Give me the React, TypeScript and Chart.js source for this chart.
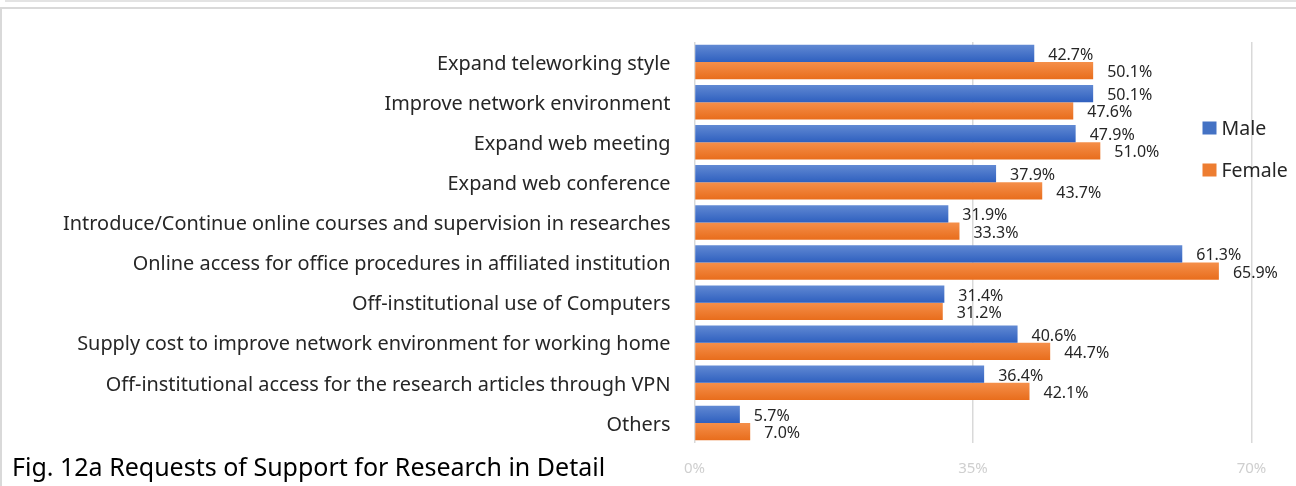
import React, { useEffect, useRef } from "react";
import { Chart, registerables } from "chart.js";

Chart.register(...registerables);

const categories = [
  "Expand teleworking style",
  "Improve network environment",
  "Expand web meeting",
  "Expand web conference",
  "Introduce/Continue online courses and supervision in researches",
  "Online access for office procedures in affiliated institution",
  "Off-institutional use of Computers",
  "Supply cost to improve network environment for working home",
  "Off-institutional access for the research articles through VPN",
  "Others",
];
const maleValues = [42.7, 50.1, 47.9, 37.9, 31.9, 61.3, 31.4, 40.6, 36.4, 5.7];
const femaleValues = [50.1, 47.6, 51.0, 43.7, 33.3, 65.9, 31.2, 44.7, 42.1, 7.0];
const seriesNames = ["Male", "Female"];
const xTicks = [0, 35, 70];
const titleText = "Fig. 12a Requests of Support for Research in Detail";

const FONT = "'Noto Sans', 'Open Sans', sans-serif";
const COLORS = [
  { base: "#4472C4", top: "#6189d3", bottom: "#2f60bf" },
  { base: "#ED7D31", top: "#f58f4a", bottom: "#e86d1c" },
];

const gradientPlugin = {
  id: "barGradient",
  beforeDatasetsDraw(chart: any) {
    const ctx = chart.ctx;
    chart.data.datasets.forEach((ds: any, di: number) => {
      const meta = chart.getDatasetMeta(di);
      meta.data.forEach((el: any) => {
        const p = el.getProps(["y", "height"], true);
        const g = ctx.createLinearGradient(0, p.y - p.height / 2, 0, p.y + p.height / 2);
        g.addColorStop(0, COLORS[di].top);
        g.addColorStop(1, COLORS[di].bottom);
        el.options.backgroundColor = g;
      });
    });
  },
};

const labelPlugin = {
  id: "valueLabels",
  afterDatasetsDraw(chart: any) {
    const ctx = chart.ctx;
    ctx.save();
    ctx.font = `16px ${FONT}`;
    ctx.fillStyle = "#262626";
    ctx.textAlign = "left";
    ctx.textBaseline = "middle";
    chart.data.datasets.forEach((ds: any, di: number) => {
      const meta = chart.getDatasetMeta(di);
      meta.data.forEach((el: any, i: number) => {
        const p = el.getProps(["x", "y"], true);
        ctx.fillText(ds.data[i].toFixed(1) + "%", p.x + 14, p.y + 2);
      });
    });
    ctx.restore();
  },
};

const legendPlugin = {
  id: "sideLegend",
  afterDraw(chart: any) {
    const ctx = chart.ctx;
    const a = chart.chartArea;
    ctx.save();
    ctx.font = `19.5px ${FONT}`;
    ctx.textBaseline = "middle";
    ctx.textAlign = "left";
    chart.data.datasets.forEach((ds: any, di: number) => {
      const x = a.right - 49;
      const y = a.top + 86 + di * 42;
      ctx.fillStyle = COLORS[di].base;
      ctx.fillRect(x, y - 6.5, 14, 13);
      ctx.fillStyle = "#262626";
      ctx.fillText(ds.label, x + 19, y + 1);
    });
    ctx.restore();
  },
};

export default function App() {
  const ref = useRef<HTMLCanvasElement | null>(null);
  useEffect(() => {
    if (!ref.current) return;
    const chart = new Chart(ref.current, {
      type: "bar",
      data: {
        labels: categories,
        datasets: [
          {
            label: seriesNames[0],
            data: maleValues,
            backgroundColor: () => COLORS[0].base,
            categoryPercentage: 0.86,
            barPercentage: 1.0,
          },
          {
            label: seriesNames[1],
            data: femaleValues,
            backgroundColor: () => COLORS[1].base,
            categoryPercentage: 0.86,
            barPercentage: 1.0,
          },
        ],
      },
      options: {
        indexAxis: "y",
        animation: false,
        responsive: false,
        maintainAspectRatio: false,
        layout: { padding: { left: 0, right: 44.5, top: 42, bottom: 0 } },
        plugins: {
          legend: { display: false },
          tooltip: { enabled: false },
        },
        scales: {
          x: {
            min: 0,
            max: 70,
            afterBuildTicks: (scale: any) => {
              scale.ticks = xTicks.map((v) => ({ value: v }));
            },
            afterFit: (scale: any) => {
              scale.height = 43;
            },
            grid: { color: "#d9d9d9", lineWidth: 1.5, drawTicks: false },
            border: { display: false },
            ticks: {
              padding: 17,
              color: "#cfcfcf",
              font: { family: FONT, size: 15 },
              callback: (v: any) => v + "%",
            },
          },
          y: {
            afterFit: (scale: any) => {
              scale.width = 694.5;
            },
            grid: { display: false, drawTicks: false },
            border: { display: false },
            ticks: {
              padding: 24,
              labelOffset: 2,
              color: "#262626",
              font: { family: FONT, size: 19.9 },
              autoSkip: false,
            },
          },
        },
      },
      plugins: [gradientPlugin, labelPlugin, legendPlugin],
    } as any);
    return () => chart.destroy();
  }, []);

  return (
    <div
      style={{
        position: "fixed",
        left: 0,
        top: 0,
        width: 1296,
        height: 486,
        background: "#fff",
        overflow: "hidden",
      }}
    >
      <div style={{ position: "absolute", left: 5, top: 0, right: 0, height: 2, background: "#e3e3e3" }} />
      <div style={{ position: "absolute", left: 0, top: 7, right: 0, height: 2, background: "#d9d9d9" }} />
      <div style={{ position: "absolute", left: 0, top: 7, bottom: 0, width: 2, background: "#d9d9d9" }} />
      <canvas ref={ref} width={1296} height={486} style={{ position: "absolute", left: 0, top: 0 }} />
      <div
        style={{
          position: "absolute",
          left: 12,
          top: 449,
          fontFamily: FONT,
          fontSize: 25,
          color: "#000",
          whiteSpace: "nowrap",
          lineHeight: "34px",
        }}
      >
        {titleText}
      </div>
    </div>
  );
}
